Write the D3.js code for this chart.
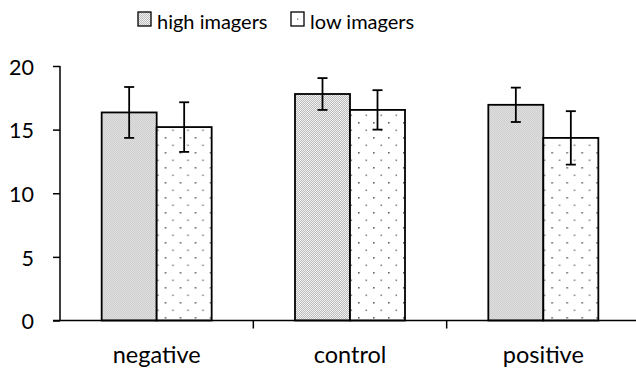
<!DOCTYPE html>
<html>
<head>
<meta charset="utf-8">
<script src="https://cdn.jsdelivr.net/npm/d3@7"></script>
<style>
  body { margin: 0; background: #fff; }
  svg { font-family: Lato, "Open Sans", sans-serif; }
</style>
</head>
<body>
<svg id="svg"></svg>
<script>
// values
const categories = ['negative', 'control', 'positive'];
const seriesNames = ['high imagers', 'low imagers'];
const highMeans = [16.35, 17.8, 16.95];
const highErrors = [2.0, 1.25, 1.35];
const lowMeans = [15.2, 16.55, 14.35];
const lowErrors = [1.95, 1.55, 2.1];
const yTicks = [0, 5, 10, 15, 20];

const width = 636;
const height = 371;

const svg = d3.select('#svg')
  .attr('width', width)
  .attr('height', height);

// fill patterns
const defs = svg.append('defs');

const checker = defs.append('pattern')
  .attr('id', 'checker')
  .attr('patternUnits', 'userSpaceOnUse')
  .attr('width', 2)
  .attr('height', 2);
checker.append('rect').attr('width', 2).attr('height', 2).attr('fill', '#f2f2f2');
checker.append('rect').attr('width', 1).attr('height', 1).attr('fill', '#bcbcbc');
checker.append('rect').attr('x', 1).attr('y', 1).attr('width', 1).attr('height', 1).attr('fill', '#bcbcbc');

const dots = defs.append('pattern')
  .attr('id', 'dots')
  .attr('patternUnits', 'userSpaceOnUse')
  .attr('width', 15)
  .attr('height', 15)
  .attr('x', 3)
  .attr('y', 2);
dots.append('rect').attr('width', 15).attr('height', 15).attr('fill', '#fff');
dots.append('rect').attr('x', 0).attr('y', 0).attr('width', 1.6).attr('height', 1.6).attr('fill', '#666');
dots.append('rect').attr('x', 7.5).attr('y', 7.5).attr('width', 1.6).attr('height', 1.6).attr('fill', '#888');

const xScale = d3.scaleBand()
  .domain(categories)
  .range([60, 640]);

const xInner = d3.scaleBand()
  .domain(seriesNames)
  .range([0, 110]);

const yScale = d3.scaleLinear()
  .domain([0, 20])
  .range([320.5, 66]);

const rows = categories.map((c, i) => ({
  category: c,
  values: [
    { series: seriesNames[0], mean: highMeans[i], err: highErrors[i], fill: 'url(#checker)' },
    { series: seriesNames[1], mean: lowMeans[i], err: lowErrors[i], fill: 'url(#dots)' }
  ]
}));

const g = svg.append('g');

const groups = g.selectAll('g.cat')
  .data(rows)
  .enter()
  .append('g')
  .attr('class', 'cat')
  .attr('transform', d => `translate(${xScale(d.category) + xScale.bandwidth() / 2 - 55},0)`);

groups.selectAll('rect')
  .data(d => d.values)
  .enter()
  .append('rect')
  .attr('x', d => xInner(d.series))
  .attr('y', d => yScale(d.mean))
  .attr('width', xInner.bandwidth())
  .attr('height', d => yScale(0) - yScale(d.mean))
  .attr('fill', d => d.fill)
  .attr('stroke', '#000')
  .attr('stroke-width', 1.8);

// error bars
const err = groups.selectAll('g.err')
  .data(d => d.values)
  .enter()
  .append('g')
  .attr('class', 'err')
  .attr('stroke', '#000')
  .attr('stroke-width', 1.8);

err.append('line')
  .attr('x1', d => xInner(d.series) + xInner.bandwidth() / 2)
  .attr('x2', d => xInner(d.series) + xInner.bandwidth() / 2)
  .attr('y1', d => yScale(d.mean + d.err))
  .attr('y2', d => yScale(d.mean - d.err));

[1, -1].forEach(sign => {
  err.append('line')
    .attr('x1', d => xInner(d.series) + xInner.bandwidth() / 2 - 5)
    .attr('x2', d => xInner(d.series) + xInner.bandwidth() / 2 + 5)
    .attr('y1', d => yScale(d.mean + sign * d.err))
    .attr('y2', d => yScale(d.mean + sign * d.err));
});

// y axis
const yAxis = svg.append('g')
  .attr('transform', 'translate(60,0)')
  .call(d3.axisLeft(yScale).tickValues(yTicks).tickSize(7).tickPadding(19));
yAxis.select('.domain').attr('stroke', '#000').attr('stroke-width', 1.5).attr('d', `M0,${yScale(20)}V${yScale(0)}`);
yAxis.selectAll('.tick line').attr('stroke', '#000').attr('stroke-width', 1.5);
yAxis.selectAll('.tick text')
  .attr('font-size', 21.5)
  .attr('font-family', 'Lato, sans-serif')
  .attr('dy', '0.38em')
  .attr('fill', '#000');

// x axis
const xAxis = svg.append('g')
  .attr('transform', `translate(0,${yScale(0)})`)
  .call(d3.axisBottom(xScale).tickSize(0).tickPadding(26));
xAxis.select('.domain').attr('stroke', '#000').attr('stroke-width', 1.5).attr('d', 'M53,0H636');
xAxis.selectAll('.tick text')
  .attr('font-size', 23.5)
  .attr('font-family', 'Lato, sans-serif')
  .attr('fill', '#000');

// category separator ticks
svg.append('g')
  .selectAll('line')
  .data(categories.slice(1))
  .enter()
  .append('line')
  .attr('x1', d => xScale(d))
  .attr('x2', d => xScale(d))
  .attr('y1', yScale(0))
  .attr('y2', yScale(0) + 8)
  .attr('stroke', '#000')
  .attr('stroke-width', 1.5);

// legend
const legendX = [138, 291];
const legend = svg.append('g')
  .selectAll('g')
  .data(seriesNames)
  .enter()
  .append('g')
  .attr('transform', (d, i) => `translate(${legendX[i]},12)`);

legend.append('rect')
  .attr('width', 13)
  .attr('height', 14)
  .attr('fill', (d, i) => i === 0 ? 'url(#checker)' : '#fff')
  .attr('stroke', '#000')
  .attr('stroke-width', 1.3);

legend.filter((d, i) => i === 1)
  .append('rect')
  .attr('x', 6)
  .attr('y', 6.5)
  .attr('width', 1.3)
  .attr('height', 1.3)
  .attr('fill', '#777');

legend.append('text')
  .attr('x', 19)
  .attr('y', 17)
  .attr('font-size', 20)
  .attr('fill', '#000')
  .text(d => d);
</script>
</body>
</html>
